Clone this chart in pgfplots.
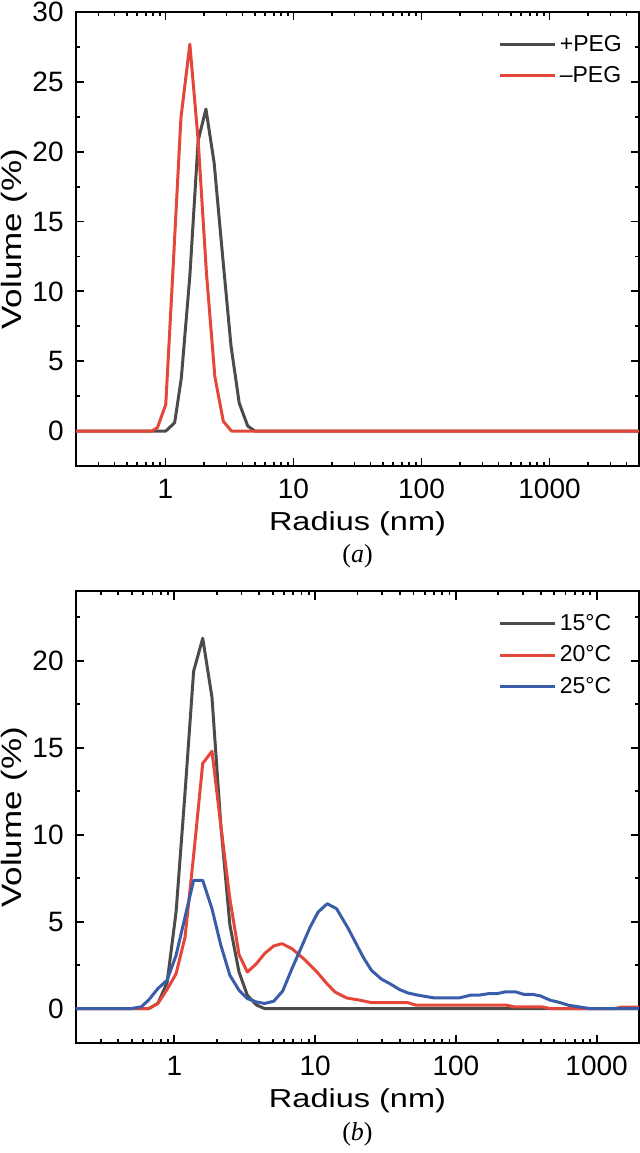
\documentclass[border=0pt]{standalone}
\usepackage{fontspec}
\setmainfont{Liberation Sans}
\newfontfamily\labfont{Liberation Sans}[FakeStretch=1.25]
\newfontfamily\capfont{Liberation Serif}
\usepackage{pgfplots}
\pgfplotsset{compat=1.18}
\definecolor{cgray}{HTML}{4B4B4B}
\definecolor{cred}{HTML}{E4473A}
\definecolor{cblue}{HTML}{3A5DAA}
\pgfplotsset{
    scale only axis, width=281.5pt,
    axis line style={line width=1pt},
    every tick/.style={line width=0.9pt, black},
    tick align=inside,
    major tick length=4.2pt, minor tick length=2pt,
    /pgf/number format/assume math mode=true,
    tick label style={font=\fontsize{14}{16}\selectfont, inner sep=0pt},
    x tick label style={anchor=center, yshift=-11.5pt},
    y tick label style={anchor=east, xshift=-6pt},
    xlabel style={font=\labfont\fontsize{13}{15}\selectfont},
    ylabel style={font=\labfont\fontsize{14}{16}\selectfont, at={(axis description cs:-0.1105,0.5)}, anchor=center},
    legend cell align=left,
    legend image code/.code={\draw[#1, line width=1.5pt] (0pt,0pt) -- (27.5pt,0pt);},
    legend style={draw=none, fill=none, at={(axis description cs:0,1)}, anchor=north west,
      xshift=211pt, yshift=-11.5pt, font=\fontsize{11.5}{13}\selectfont,
      row sep=6.2pt, column sep=0pt, inner sep=0pt, outer sep=0pt,
      nodes={inner sep=0pt, outer sep=0pt}},
    every axis plot/.append style={line width=1.5pt, line join=round},
}
\begin{document}
\begin{tikzpicture}
\useasboundingbox (0,0) rectangle (320pt,576.5pt);
\begin{axis}[name=a, at={(38pt,343.5pt)}, anchor=south west, height=227pt,
  xmode=log, xmin=0.2, xmax=5000, ymin=-2.5, ymax=30,
  xtick={1,10,100,1000}, xticklabels={1,10,100,1000},
  minor xtick={0.3,0.4,0.5,0.6,0.7,0.8,0.9,2,3,4,5,6,7,8,9,20,30,40,50,60,70,80,90,200,300,400,500,600,700,800,900,2000,3000,4000},
  ytick={0,5,10,15,20,25,30},
  yticklabels={0,5,10,15,20,25,30}, minor y tick num=1,
  xlabel={Radius (nm)}, ylabel={Volume (\%)},
  xlabel style={at={(axis description cs:0.5,-0.141)}, anchor=base}]
\addplot[cgray, no markers] coordinates {
(0.2,0) (1.005,0) (1.18,0.6) (1.33,3.8) (1.55,11.1) (1.80,20.8) (2.07,23.05)
(2.40,19.2) (2.79,12.6) (3.25,6.1) (3.77,2.0) (4.39,0.36) (5.0,0) (5000,0)};
\addlegendentry{\,+PEG}
\addplot[cred, no markers] coordinates {
(0.2,0) (0.78,0) (0.865,0.24) (1.005,1.9) (1.15,11.9) (1.32,22.4) (1.55,27.7)
(1.80,20.8) (2.09,11.3) (2.43,3.9) (2.83,0.7) (3.28,0) (5000,0)};
\addlegendentry{\,–PEG}
\end{axis}
\node[anchor=base, font=\capfont\fontsize{13}{15}\selectfont] at ([yshift=-48.5pt]a.south) {(\textit{a})};

\begin{axis}[name=b, at={(38pt,54.85pt)}, anchor=south west, height=226pt,
  xmode=log, xmin=0.2, xmax=2000, ymin=-2, ymax=24,
  xtick={1,10,100,1000}, xticklabels={1,10,100,1000},
  minor xtick={0.3,0.4,0.5,0.6,0.7,0.8,0.9,2,3,4,5,6,7,8,9,20,30,40,50,60,70,80,90,200,300,400,500,600,700,800,900},
  ytick={0,5,10,15,20},
  yticklabels={0,5,10,15,20}, minor ytick={2.5,7.5,12.5,17.5,22.5},
  xlabel={Radius (nm)}, ylabel={Volume (\%)},
  xlabel style={at={(axis description cs:0.5,-0.1431)}, anchor=base}]
\addplot[cgray, no markers] coordinates {
(0.2,0) (0.66,0) (0.764,0.3) (0.888,1.5) (1.028,5.55) (1.19,12.4) (1.37,19.4)
(1.59,21.3) (1.85,17.9) (2.14,10.5) (2.48,4.8) (2.88,2.1) (3.30,0.76) (3.83,0.2)
(4.37,0) (2000,0)};
\addlegendentry{\,15°C}
\addplot[cred, no markers] coordinates {
(0.2,0) (0.655,0) (0.764,0.29) (0.888,1.1) (1.028,2.0) (1.19,4.1) (1.37,8.8)
(1.59,14.1) (1.85,14.8) (2.14,10.5) (2.48,6.3) (2.88,3.1) (3.30,2.1) (3.83,2.58)
(4.37,3.16) (5.08,3.6) (5.82,3.73) (6.85,3.44) (8.27,2.87) (10.28,2.11) (12.1,1.44)
(13.8,0.96) (16.7,0.61) (20.8,0.48) (25.1,0.34) (45.5,0.34) (52.2,0.19) (231,0.19)
(258,0.1) (408,0.1) (468,0) (1346,0) (1500,0.08) (2000,0.08)};
\addlegendentry{\,20°C}
\addplot[cblue, no markers] coordinates {
(0.2,0) (0.495,0) (0.582,0.1) (0.655,0.48) (0.764,1.15) (0.888,1.63) (1.028,3.06)
(1.19,5.26) (1.37,7.37) (1.59,7.37) (1.85,5.74) (2.14,3.63) (2.48,1.91) (2.88,1.05)
(3.30,0.57) (3.83,0.38) (4.37,0.29) (5.08,0.42) (5.88,1.0) (6.85,2.3) (8.06,3.6)
(9.22,4.69) (10.5,5.55) (12.2,6.03) (14.2,5.74) (17.2,4.6) (21.9,2.97) (25.1,2.2)
(29.6,1.69) (33.8,1.44) (39.8,1.09) (45.5,0.9) (53.6,0.77) (70.3,0.61) (105.5,0.61)
(127.6,0.77) (146,0.77) (172,0.86) (197,0.86) (225,0.96) (265,0.96) (303,0.82)
(347,0.82) (398,0.73) (468,0.48) (551,0.34) (630,0.19) (742,0.1) (827,0.04) (900,0) (2000,0)};
\addlegendentry{\,25°C}
\end{axis}
\node[anchor=base, font=\capfont\fontsize{13}{15}\selectfont] at ([yshift=-48.5pt]b.south) {(\textit{b})};
\end{tikzpicture}
\end{document}
